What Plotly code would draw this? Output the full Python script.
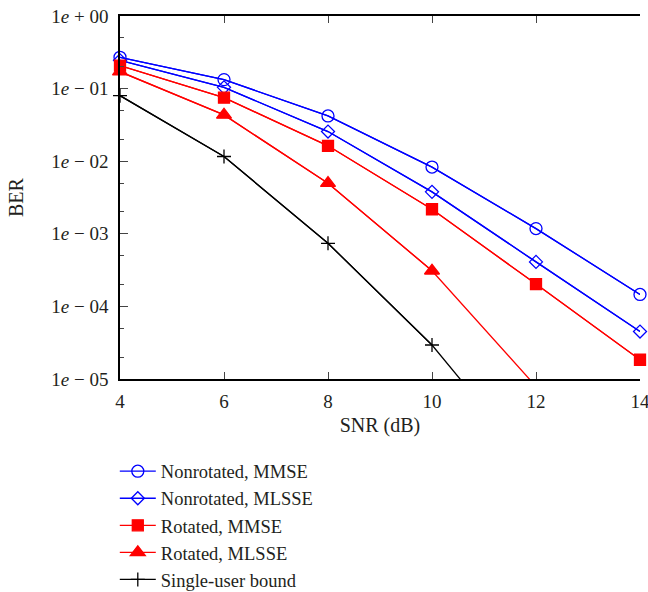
import plotly.graph_objects as go

# SNR grid (dB) and BER curves
snr = [4, 6, 8, 10, 12, 14]

ber_nonrot_mmse = [0.27, 0.133, 0.042, 0.0083, 0.00118, 1.46e-4]
ber_nonrot_mlsse = [0.245, 0.104, 0.0256, 0.00378, 4.1e-4, 4.5e-5]
ber_rot_mmse = [0.207, 0.075, 0.0163, 0.00218, 2.03e-4, 1.84e-5]
ber_rot_mlsse = [0.171, 0.0434, 0.00498, 3.1e-4, 7.9e-6]
ber_single_user = [0.08, 0.0116, 7.4e-4, 2.94e-5, 5.4e-7]

series = [
    ("Nonrotated, MMSE", ber_nonrot_mmse, "#0000FF", "circle-open", 12),
    ("Nonrotated, MLSSE", ber_nonrot_mlsse, "#0000FF", "diamond-open", 10),
    ("Rotated, MMSE", ber_rot_mmse, "#FF0000", "square", 11),
    ("Rotated, MLSSE", ber_rot_mlsse, "#FF0000", "triangle-up", 13),
    ("Single-user bound", ber_single_user, "#000000", "cross-thin-open", 10),
]

ymin = 1e-5
ytick_vals = [1, 1e-1, 1e-2, 1e-3, 1e-4, 1e-5]
ytick_text = ["1<i>e</i> + 00", "1<i>e</i> − 01", "1<i>e</i> − 02",
              "1<i>e</i> − 03", "1<i>e</i> − 04", "1<i>e</i> − 05"]

FONT = "Liberation Serif, DejaVu Serif, serif"
INK = "#231f20"

fig = go.Figure()
for i, (name, ber, color, symbol, size) in enumerate(series):
    x = snr[:len(ber)]
    # full curve, clipped by the plot area
    fig.add_trace(go.Scatter(
        x=x, y=ber, mode="lines", line=dict(color=color, width=1.3),
        showlegend=False, hoverinfo="skip", legendgroup=f"g{i}"))
    # markers for the points that fall inside the axis range
    xs = [a for a, b in zip(x, ber) if b >= ymin]
    ys = [b for b in ber if b >= ymin]
    fig.add_trace(go.Scatter(
        x=xs, y=ys, mode="lines+markers", name=name, legendgroup=f"g{i}",
        line=dict(color=color, width=1.3),
        marker=dict(symbol=symbol, size=size, color=color,
                    line=dict(color=color, width=1.3)),
        cliponaxis=False))

fig.update_layout(
    width=648, height=592,
    margin=dict(l=120, r=8, t=16, b=213, autoexpand=False),
    paper_bgcolor="white", plot_bgcolor="white",
    font=dict(family=FONT, size=18, color=INK),
    legend=dict(x=-0.01, xanchor="left", y=-0.203, yanchor="top",
                font=dict(size=18.5), tracegroupgap=0, itemwidth=36,
                bgcolor="rgba(0,0,0,0)"),
)
fig.update_xaxes(
    range=[4, 14], tickvals=snr, ticks="inside", ticklen=7,
    showline=True, linecolor="black", linewidth=1.5, mirror="ticks",
    showgrid=False, zeroline=False, ticklabelstandoff=4,
    ticklabeloverflow="allow",
    title=dict(text="SNR (dB)", standoff=7, font=dict(size=20)),
    tickfont=dict(size=19))
fig.update_yaxes(
    type="log", range=[-5, 0], tickvals=ytick_vals, ticktext=ytick_text,
    ticks="inside", ticklen=8,
    minor=dict(ticks="inside", ticklen=4, showgrid=False),
    showline=True, linecolor="black", linewidth=1.5, mirror=False,
    showgrid=False, zeroline=False, ticklabelstandoff=6,
    title=dict(text="BER", standoff=22, font=dict(size=20)),
    tickfont=dict(size=19))
# right-hand frame edge with the same log ticks, no labels
fig.update_layout(yaxis2=dict(
    overlaying="y", side="right", type="log", range=[-5, 0],
    tickvals=ytick_vals, ticks="inside", ticklen=8,
    minor=dict(ticks="inside", ticklen=4, showgrid=False),
    showline=True, linecolor="black", linewidth=1.5,
    showgrid=False, zeroline=False, showticklabels=False))

fig.write_html("out.html")
